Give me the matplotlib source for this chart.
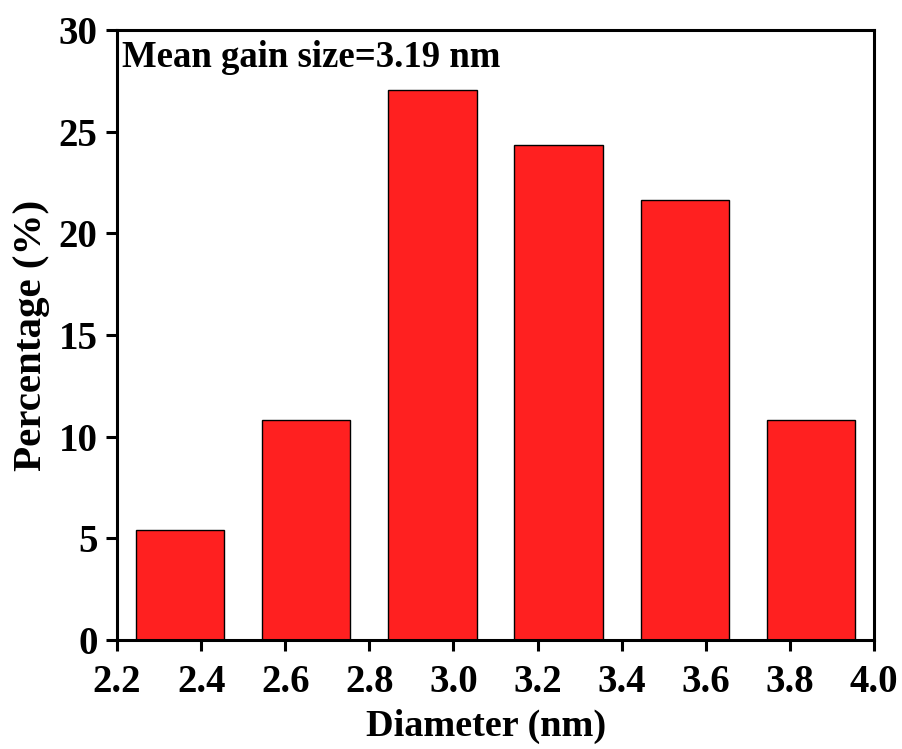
import matplotlib.pyplot as plt

# histogram of particle diameters (bins of 0.3 nm)
diameter = [2.35, 2.65, 2.95, 3.25, 3.55, 3.85]
percentage = [5.41, 10.81, 27.03, 24.32, 21.62, 10.81]
xticks = [2.2, 2.4, 2.6, 2.8, 3.0, 3.2, 3.4, 3.6, 3.8, 4.0]
yticks = [0, 5, 10, 15, 20, 25, 30]

plt.rcParams['font.family'] = ['Liberation Serif', 'DejaVu Serif']
plt.rcParams['font.weight'] = 'bold'

fig = plt.figure(figsize=(9.03, 7.49), dpi=100)
ax = fig.add_axes([0.1296, 0.1455, 0.8383, 0.8145])

ax.bar(diameter, percentage, width=0.21, color='#ff2020', edgecolor='black', linewidth=1)

ax.set_xlim(2.2, 4.0)
ax.set_ylim(0, 30)
ax.set_xticks(xticks)
ax.set_xticklabels([f'{t:.1f}' for t in xticks])
ax.set_yticks(yticks)

for s in ax.spines.values():
    s.set_linewidth(2.2)
ax.tick_params(direction='out', length=8, width=2.2, labelsize=28)
ax.tick_params(axis='x', pad=9)
ax.tick_params(axis='y', pad=6)

ax.set_xlabel('Diameter (nm)', fontsize=27.5, fontweight='bold', labelpad=6)
ax.xaxis.label.set_x(0.488)
ax.set_ylabel('Percentage (%)', fontsize=29.5, fontweight='bold', labelpad=6)

ax.text(0.006, 0.983, 'Mean gain size=3.19 nm', transform=ax.transAxes,
        fontsize=26.5, fontweight='bold', va='top', ha='left')

plt.savefig('out.png', dpi=100)
